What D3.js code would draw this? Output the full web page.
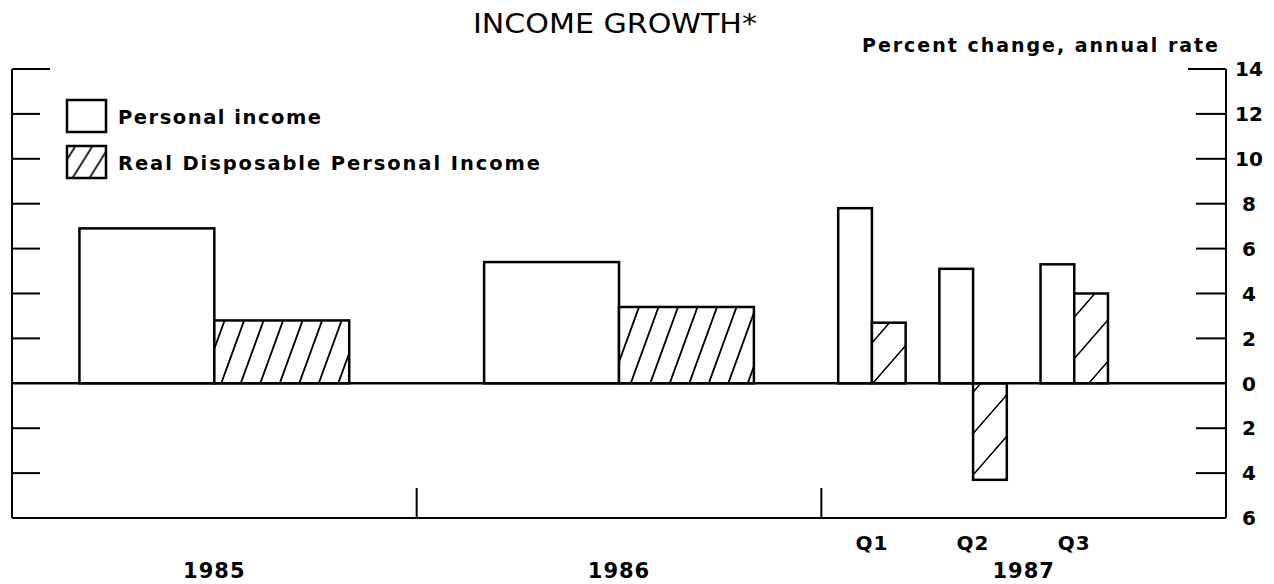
<!DOCTYPE html>
<html lang="en">
<head>
    <meta charset="UTF-8">
    <title>Income Growth</title>
    <script src="https://d3js.org/d3.v7.min.js"></script>
    <style>
        body { margin: 0; background: #fff; }
        svg { display: block; }
        .lbl { font-family: "DejaVu Sans", sans-serif; font-weight: bold; fill: #000; }
        .title { font-family: "DejaVu Sans", sans-serif; font-weight: normal; fill: #000; }
    </style>
</head>
<body>
    <div id="chart"></div>

    <script>
        // data
        const years = ["1985", "1986", "1987"];
        const quarters = ["Q1", "Q2", "Q3", "Q4"];
        const periodYear = ["1985", "1986", "1987", "1987", "1987"];
        const periodQuarter = ["", "", "Q1", "Q2", "Q3"];
        const personalIncome = [6.9, 5.4, 7.8, 5.1, 5.3];
        const realDisposable = [2.8, 3.4, 2.7, -4.3, 4.0];
        const seriesNames = ["Personal income", "Real Disposable Personal Income"];
        const yTicks = [-6, -4, -2, 0, 2, 4, 6, 8, 10, 12, 14];

        const W = 1274, H = 584;
        const plotLeft = 12, plotRight = 1226, plotTop = 69, plotBottom = 518;

        const svg = d3.select("#chart").append("svg")
            .attr("width", W)
            .attr("height", H);

        const defs = svg.append("defs");
        function hatch(id, step, angle, sw) {
            const p = defs.append("pattern")
                .attr("id", id)
                .attr("patternUnits", "userSpaceOnUse")
                .attr("width", step)
                .attr("height", 20)
                .attr("patternTransform", "skewX(" + angle + ")");
            p.append("rect").attr("width", step).attr("height", 20).attr("fill", "#fff");
            p.append("line")
                .attr("x1", step / 2).attr("y1", -1)
                .attr("x2", step / 2).attr("y2", 21)
                .attr("stroke", "#000")
                .attr("stroke-width", sw);
        }
        hatch("hatchWide", 19.5, -20, 2);
        hatch("hatchNarrow", 36, -41, 2);
        hatch("hatchLegend", 17, -32, 2);

        const y = d3.scaleLinear().domain([-6, 14]).range([plotBottom, plotTop]);
        const xYear = d3.scaleBand().domain(years).range([plotLeft, plotRight]);

        function slotScale(year) {
            const dom = year === "1987" ? quarters : [year];
            return d3.scaleBand()
                .domain(dom)
                .range([xYear(year), xYear(year) + xYear.bandwidth()])
                .paddingInner(1 / 3)
                .paddingOuter(1 / 6);
        }

        const bars = [];
        periodYear.forEach((yr, i) => {
            const s = slotScale(yr);
            const key = periodQuarter[i] || yr;
            const x0 = s(key);
            const xs = d3.scaleBand().domain(seriesNames).range([x0, x0 + s.bandwidth()]);
            const narrow = periodQuarter[i] !== "";
            bars.push({ x: xs(seriesNames[0]), w: xs.bandwidth(), v: personalIncome[i], fill: "#fff" });
            bars.push({ x: xs(seriesNames[1]), w: xs.bandwidth(), v: realDisposable[i],
                        fill: narrow ? "url(#hatchNarrow)" : "url(#hatchWide)" });
        });

        // bars
        svg.selectAll(".bar")
            .data(bars)
            .enter().append("rect")
            .attr("class", "bar")
            .attr("x", d => d.x)
            .attr("width", d => d.w)
            .attr("y", d => y(Math.max(0, d.v)))
            .attr("height", d => Math.abs(y(d.v) - y(0)))
            .attr("fill", d => d.fill)
            .attr("stroke", "#000")
            .attr("stroke-width", 2.5);

        // frame: left, right, bottom, zero line
        const frame = svg.append("g").attr("stroke", "#000").attr("stroke-width", 2).attr("fill", "none");
        frame.append("line").attr("x1", plotLeft).attr("x2", plotLeft).attr("y1", plotTop).attr("y2", plotBottom);
        frame.append("line").attr("x1", plotRight).attr("x2", plotRight).attr("y1", plotTop).attr("y2", plotBottom);
        frame.append("line").attr("x1", plotLeft).attr("x2", plotRight).attr("y1", plotBottom).attr("y2", plotBottom);
        frame.append("line").attr("x1", plotLeft).attr("x2", plotRight).attr("y1", y(0)).attr("y2", y(0)).attr("stroke-width", 2.5);

        // inward ticks on both sides
        const tickVals = yTicks.filter(t => t !== 0 && t !== -6);
        tickVals.forEach(t => {
            const long = t === 14;
            frame.append("line")
                .attr("x1", plotLeft).attr("x2", plotLeft + (long ? 38 : 28))
                .attr("y1", y(t)).attr("y2", y(t));
            frame.append("line")
                .attr("x1", plotRight).attr("x2", plotRight - (long ? 38 : 30))
                .attr("y1", y(t)).attr("y2", y(t));
        });

        // year separators on the bottom axis
        years.slice(1).forEach(yr => {
            frame.append("line")
                .attr("x1", xYear(yr)).attr("x2", xYear(yr))
                .attr("y1", plotBottom - 30).attr("y2", plotBottom);
        });

        // right tick labels (absolute values)
        svg.selectAll(".ytick")
            .data(yTicks)
            .enter().append("text")
            .attr("class", "lbl ytick")
            .attr("x", 1249)
            .attr("y", d => y(d))
            .attr("dy", "0.36em")
            .attr("text-anchor", "middle")
            .attr("font-size", 20)
            .text(d => Math.abs(d));

        // year labels
        svg.selectAll(".year")
            .data(years)
            .enter().append("text")
            .attr("class", "lbl year")
            .attr("x", d => xYear(d) + xYear.bandwidth() / 2)
            .attr("y", 578)
            .attr("text-anchor", "middle")
            .attr("font-size", 21)
            .attr("letter-spacing", 1)
            .text(d => d);

        // quarter labels
        const qScale = slotScale("1987");
        svg.selectAll(".qtr")
            .data(periodQuarter.filter(q => q))
            .enter().append("text")
            .attr("class", "lbl qtr")
            .attr("x", d => qScale(d) + qScale.bandwidth() / 2)
            .attr("y", 550)
            .attr("text-anchor", "middle")
            .attr("font-size", 20)
            .attr("letter-spacing", 1)
            .text(d => d);

        // title and unit
        svg.append("text")
            .attr("class", "title")
            .attr("x", 473)
            .attr("y", 33)
            .attr("font-size", 27)
            .attr("textLength", 284)
            .attr("lengthAdjust", "spacingAndGlyphs")
            .text("INCOME GROWTH*");

        svg.append("text")
            .attr("class", "lbl")
            .attr("x", 862)
            .attr("y", 52)
            .attr("font-size", 19)
            .attr("textLength", 356)
            .attr("lengthAdjust", "spacing")
            .text("Percent change, annual rate");

        // legend
        const legend = svg.selectAll(".legend")
            .data(seriesNames)
            .enter().append("g")
            .attr("class", "legend")
            .attr("transform", (d, i) => "translate(67," + (100 + i * 46) + ")");

        legend.append("rect")
            .attr("width", 39)
            .attr("height", 32)
            .attr("fill", (d, i) => i === 0 ? "#fff" : "url(#hatchLegend)")
            .attr("stroke", "#000")
            .attr("stroke-width", 2.5);

        legend.append("text")
            .attr("class", "lbl")
            .attr("x", 51)
            .attr("y", 24)
            .attr("font-size", 19.5)
            .attr("textLength", (d, i) => i === 0 ? 203 : 422)
            .attr("lengthAdjust", "spacing")
            .text(d => d);
    </script>
</body>
</html>
